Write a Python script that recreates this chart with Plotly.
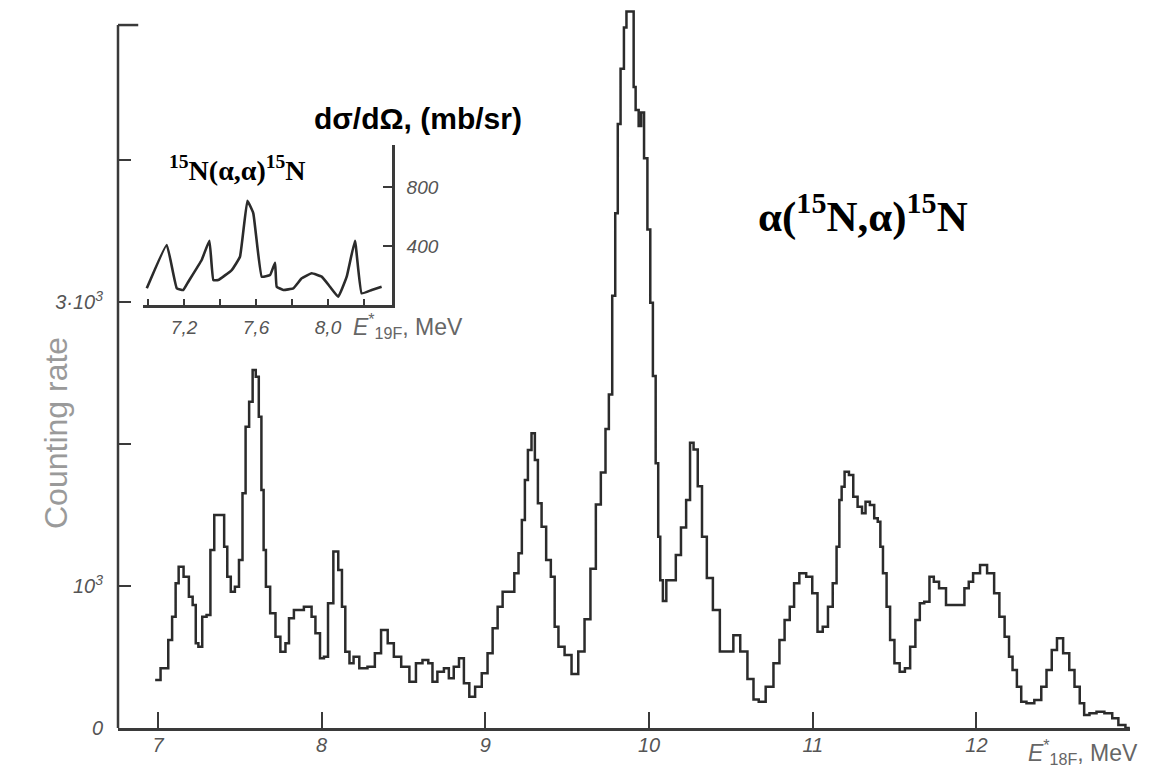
import plotly.graph_objects as go

# ---------------- data ----------------
main_E = [6.983, 7.049, 7.077, 7.096, 7.120, 7.133, 7.180, 7.198, 7.226, 7.236,
          7.258, 7.283, 7.311, 7.330, 7.358, 7.395, 7.414, 7.433, 7.457, 7.483,
          7.507, 7.526, 7.545, 7.569, 7.588, 7.607, 7.625, 7.639, 7.652, 7.667,
          7.704, 7.732, 7.764, 7.794, 7.807, 7.854, 7.929, 7.948, 7.976, 8.004,
          8.024, 8.054, 8.089, 8.114, 8.134, 8.155, 8.185, 8.205, 8.255, 8.305,
          8.345, 8.381, 8.426, 8.456, 8.516, 8.556, 8.596, 8.636, 8.667, 8.687,
          8.727, 8.767, 8.787, 8.827, 8.851, 8.887, 8.917, 8.958, 8.998, 9.029,
          9.060, 9.090, 9.121, 9.162, 9.192, 9.213, 9.233, 9.250, 9.270, 9.294,
          9.311, 9.331, 9.356, 9.387, 9.413, 9.434, 9.459, 9.509, 9.544, 9.591,
          9.621, 9.663, 9.687, 9.724, 9.744, 9.765, 9.785, 9.802, 9.816, 9.836,
          9.857, 9.867, 9.904, 9.908, 9.928, 9.945, 9.959, 9.980, 10.000, 10.015,
          10.032, 10.049, 10.063, 10.074, 10.095, 10.116, 10.148, 10.179, 10.211, 10.242,
          10.259, 10.285, 10.310, 10.337, 10.369, 10.411, 10.454, 10.496, 10.534, 10.580,
          10.622, 10.654, 10.686, 10.739, 10.781, 10.812, 10.844, 10.875, 10.897, 10.939,
          10.981, 11.013, 11.045, 11.077, 11.109, 11.135, 11.156, 11.169, 11.184, 11.205,
          11.237, 11.258, 11.290, 11.312, 11.333, 11.365, 11.386, 11.408, 11.418, 11.440,
          11.462, 11.483, 11.515, 11.547, 11.579, 11.611, 11.643, 11.665, 11.697, 11.729,
          11.750, 11.793, 11.835, 11.921, 11.932, 11.974, 11.985, 12.006, 12.038, 12.092,
          12.124, 12.156, 12.188, 12.210, 12.231, 12.263, 12.284, 12.327, 12.380, 12.412,
          12.444, 12.476, 12.508, 12.551, 12.583, 12.615, 12.647, 12.669, 12.712, 12.755,
          12.808, 12.851, 12.883, 12.937]
main_counts = [338, 420, 620, 784, 1019, 1136, 1065, 925, 866, 596,
               572, 784, 796, 1254, 1500, 1500, 1277, 1065, 960, 995,
               1183, 1653, 2122, 2298, 2521, 2474, 2192, 1676, 1254, 995,
               808, 643, 537, 596, 773, 831, 854, 784, 667, 491,
               502, 878, 1242, 1113, 854, 537, 456, 502, 420, 432,
               526, 690, 596, 502, 432, 326, 456, 479, 456, 326,
               396, 420, 350, 432, 491, 315, 220, 291, 385, 526,
               702, 854, 960, 960, 1089, 1230, 1465, 1746, 1958, 2075,
               1887, 1582, 1418, 1183, 1065, 713, 573, 514, 380, 539,
               765, 1121, 1573, 1799, 2106, 2349, 3043, 3625, 4254, 4642,
               4933, 5046, 5046, 4513, 4351, 4239, 4335, 4012, 3511, 2994,
               2478, 1864, 1347, 1040, 894, 1040, 1040, 1218, 1412, 1606,
               2009, 1961, 1703, 1347, 1056, 831, 539, 539, 653, 539,
               345, 201, 185, 291, 456, 620, 761, 854, 1019, 1089,
               1065, 949, 678, 713, 854, 1019, 1277, 1606, 1699, 1805,
               1782, 1629, 1558, 1512, 1594, 1570, 1477, 1453, 1277, 1089,
               854, 620, 456, 396, 420, 573, 761, 878, 889, 1065,
               1030, 984, 866, 866, 984, 1030, 1089, 1089, 1148, 1089,
               949, 784, 643, 502, 408, 291, 185, 174, 197, 291,
               408, 549, 632, 526, 408, 291, 174, 92, 104, 115,
               104, 68, 21, 0]

inset_E = [6.993, 7.104, 7.160, 7.196, 7.224, 7.298, 7.341, 7.363, 7.390, 7.465,
           7.511, 7.552, 7.585, 7.632, 7.678, 7.706, 7.715, 7.752, 7.807, 7.854,
           7.909, 7.965, 8.011, 8.057, 8.104, 8.150, 8.187, 8.243, 8.298]
inset_xsec = [113, 407, 113, 102, 158, 305, 436, 169, 169, 237,
              327, 707, 622, 192, 203, 287, 124, 102, 113, 181,
              215, 192, 124, 56, 192, 436, 79, 102, 124]

main_xticks = [7, 8, 9, 10, 11, 12]
main_yticks = [0, 1000, 2000, 3000, 4000]
main_yticktext = ["0", "10<sup>3</sup>", "", "3·10<sup>3</sup>", ""]
inset_xticks = [7.0, 7.2, 7.4, 7.6, 7.8, 8.0, 8.2]
inset_xticktext = ["", "7,2", "", "7,6", "", "8,0", ""]
inset_yticks = [400, 800]

# ---------------- figure ----------------
AX = "#3a3a3a"
TXT = "#555555"
tickfont = dict(family="Liberation Sans", size=20, color=TXT, style="italic")
itickfont = dict(family="Liberation Sans", size=19, color=TXT, style="italic")

fig = go.Figure()
fig.add_trace(go.Scatter(x=main_E, y=main_counts, mode="lines",
                         line=dict(color="#2b2b2b", width=2.5, shape="hvh"),
                         showlegend=False, hoverinfo="skip"))
fig.add_trace(go.Scatter(x=inset_E, y=inset_xsec, mode="lines",
                         line=dict(color="#2b2b2b", width=2.6, shape="spline", smoothing=0.3),
                         xaxis="x2", yaxis="y2", showlegend=False, hoverinfo="skip"))

# page body has an 8px margin: figure is 8px smaller than the window
W, H = 1141, 772
fig.update_layout(
    width=W, height=H,
    margin=dict(l=110, r=19, t=0, b=52),
    paper_bgcolor="white", plot_bgcolor="white",
    xaxis=dict(range=[6.756, 12.938], tickvals=main_xticks,
               ticktext=[str(t) for t in main_xticks],
               showline=True, linecolor=AX, linewidth=2.5,
               ticks="inside", ticklen=16, tickwidth=2, tickcolor=AX,
               showgrid=False, zeroline=False, tickfont=tickfont,
               ticklabelstandoff=-3),
    yaxis=dict(range=[0, 5070], tickvals=main_yticks, ticktext=main_yticktext,
               showline=False, ticks="inside", ticklen=13, tickwidth=2,
               tickcolor=AX, showgrid=False, zeroline=False,
               tickfont=tickfont, ticklabelstandoff=14),
    xaxis2=dict(domain=[0.0247, 0.2708], anchor="y2", range=[6.972, 8.356],
                tickvals=inset_xticks, ticktext=inset_xticktext,
                showline=True, linecolor=AX, linewidth=2.5,
                ticks="inside", ticklen=6, tickwidth=2, tickcolor=AX,
                showgrid=False, zeroline=False, tickfont=itickfont,
                ticklabelstandoff=3),
    yaxis2=dict(domain=[0.5875, 0.8097], anchor="x2", side="right", range=[0, 1085],
                tickvals=inset_yticks, ticktext=[str(t) for t in inset_yticks],
                showline=True, linecolor=AX, linewidth=2.5,
                ticks="inside", ticklen=9, tickwidth=2, tickcolor=AX,
                showgrid=False, zeroline=False, tickfont=itickfont,
                ticklabelstandoff=8),
)

# main y-axis line with top bracket
fig.add_shape(type="line", xref="x domain", yref="y", x0=0, x1=0, y0=0, y1=4950,
              line=dict(color=AX, width=2.5))
fig.add_shape(type="line", xref="x domain", yref="y", x0=0, x1=0.02, y0=4950, y1=4950,
              line=dict(color=AX, width=2.5))

def px_to_paper(px, py):
    # window pixel -> paper fraction of the plot area
    return (px - 118) / 1012.0, (728 - py) / 720.0

annots = [
    dict(pos=(863, 213), text="α(<sup>15</sup>N,α)<sup>15</sup>N",
         font=dict(family="Liberation Serif", size=43, color="black", weight="bold")),
    dict(pos=(418, 118), text="dσ/dΩ, (mb/sr)",
         font=dict(family="Liberation Sans", size=30, color="black", weight="bold")),
    dict(pos=(237, 168), text="<sup>15</sup>N(α,α)<sup>15</sup>N",
         font=dict(family="Liberation Serif", size=28, color="black", weight="bold")),
]
for a in annots:
    x, y = px_to_paper(*a["pos"])
    fig.add_annotation(x=x, y=y, xref="paper", yref="paper", text=a["text"],
                       showarrow=False, font=a["font"], xanchor="center", yanchor="middle")

x, y = px_to_paper(36, 433)
fig.add_annotation(x=x, y=y, xref="paper", yref="paper", text="Counting rate",
                   textangle=-90, showarrow=False,
                   font=dict(family="Liberation Sans", size=32, color="#9a9a9a"))

x, y = px_to_paper(1026, 752)
fig.add_annotation(x=x, y=y, xref="paper", yref="paper",
                   text="<i>E</i><sup>*</sup><sub>18F</sub>, MeV",
                   showarrow=False, xanchor="left", yanchor="middle",
                   font=dict(family="Liberation Sans", size=23, color="#666666"))

x, y = px_to_paper(351, 326)
fig.add_annotation(x=x, y=y, xref="paper", yref="paper",
                   text="<i>E</i><sup>*</sup><sub>19F</sub>, MeV",
                   showarrow=False, xanchor="left", yanchor="middle",
                   font=dict(family="Liberation Sans", size=23, color="#666666"))

fig.write_html("out.html")
